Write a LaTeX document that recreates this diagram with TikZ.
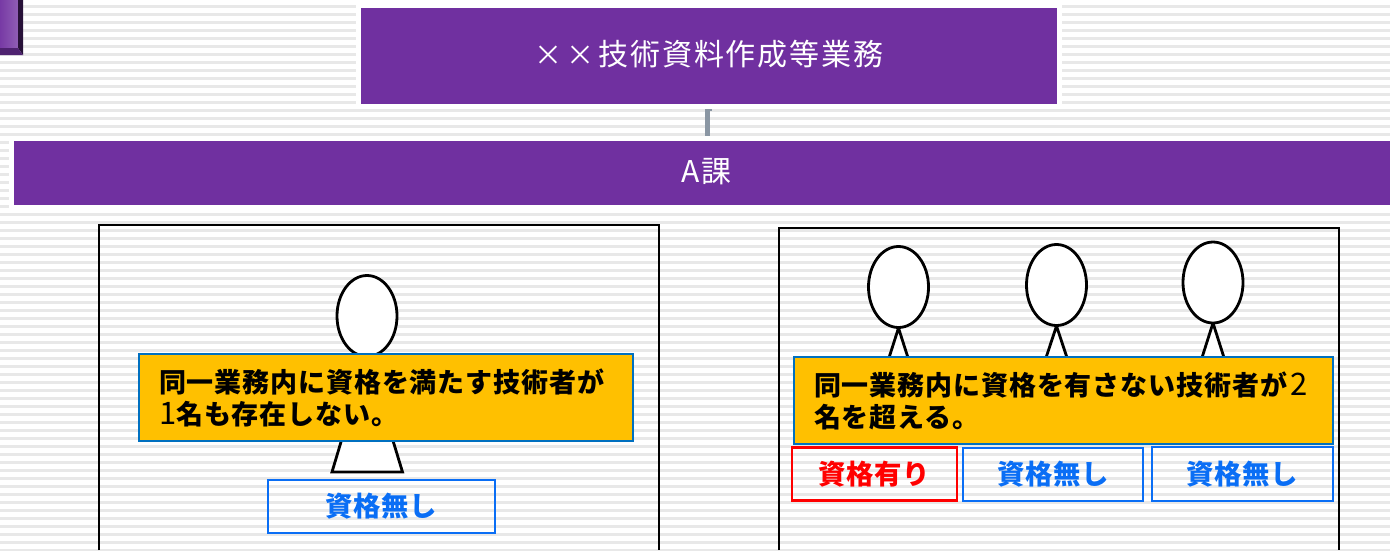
\documentclass[tikz,border=0pt]{standalone}
\usepackage{fontspec}
\setmainfont{Noto Sans CJK JP}
\usetikzlibrary{calc,shapes.geometric}
\definecolor{purp}{HTML}{7030A0}
\definecolor{stripe}{HTML}{E8E8E8}
\definecolor{yel}{HTML}{FFC000}
\definecolor{yelb}{HTML}{0070C0}
\definecolor{lblue}{HTML}{0A6EF5}
\definecolor{lred}{HTML}{FF0000}
\definecolor{conn}{HTML}{8A96A3}
\tikzset{
  halo/.style={fill=white,draw=none},
  purpbox/.style={fill=purp,draw=none,text=white,inner sep=0pt,font=\fontsize{30}{34}\selectfont\addfontfeature{LetterSpace=6}},
  panel/.style={draw=black,line width=2.6pt,line cap=butt},
  head/.style={ellipse,draw=black,fill=white,line width=2.8pt,inner sep=0pt,minimum width=60pt,minimum height=81pt},
  torso/.style={draw=black,fill=white,line width=2.8pt,line join=miter},
  note/.style={fill=yel,draw=yelb,line width=2pt,inner sep=0pt,align=left,font=\fontsize{27}{33}\selectfont\bfseries\addfontfeature{LetterSpace=3.3}},
  tag/.style={draw=#1,text=#1,line width=2.2pt,inner sep=0pt,font=\fontsize{27.4}{32}\selectfont\bfseries\addfontfeature{LetterSpace=2}},
}
\newcommand{\rg}[1]{{\mdseries\fontsize{31}{33}\selectfont #1}}
\newcommand{\multsign}{\makebox[32pt][l]{\fontsize{28}{30}\selectfont\mdseries ×}}
\begin{document}
\begin{tikzpicture}[x=1pt,y=-1pt]
\useasboundingbox (0,0) rectangle (1390,550);
\fill[white] (0,0) rectangle (1390,550);
% stripes
\foreach \k in {0,...,68} {
  \fill[stripe] (0,{5.1+8*\k}) rectangle (1390,{7.5+8*\k});
}
% corner icon
\fill[left color=purp!95!white,right color=purp!78!white] (0,0) rectangle (18,48);
\fill[black!65!purp] (18,0) -- (23,0) -- (23,55) -- (18,48) -- cycle;
\fill[black!30!purp] (0,48) -- (18,48) -- (23,55) -- (0,55) -- cycle;
% connector (below the halos)
\coordinate (topfoot) at (709,104);
\coordinate (barhead) at (707,141);
\draw[conn,line width=5pt] (barhead) -- (barhead |- topfoot);
\draw[conn,line width=1.6pt] (705,109.8) -- (711.8,109.8);
% halos and purple boxes
\fill[halo] (356,0) rectangle (1062,109);
\fill[halo] (9,136) rectangle (1390,210);
\node[purpbox,minimum width=696pt,minimum height=96pt] (top) at (709,56) {\raisebox{7pt}{\multsign\multsign 技術資料作成等業務}};
\node[purpbox,minimum width=1376pt,minimum height=64pt] (bar) at (702,173) {\raisebox{4.5pt}{\hspace*{10pt}A課}};
% panels
\draw[panel] (99,550) -- (99,225) -- (659,225) -- (659,550);
\draw[panel] (779,550) -- (779,228) -- (1339,228) -- (1339,550);
% left figure
\draw[torso] (367,355) -- (332,472) -- (402.5,472) -- cycle;
\node[head] (h0) at (367,316) {};
% right figures
\draw[torso] (898.5,328) -- (875.5,400) -- (921.5,400) -- cycle;
\node[head] (h1) at (898.5,287) {};
\draw[torso] (1056.5,326) -- (1032,400) -- (1081,400) -- cycle;
\node[head] (h2) at (1056.5,285) {};
\draw[torso] (1213,323) -- (1188.5,400) -- (1237.5,400) -- cycle;
\node[head] (h3) at (1213,282.5) {};
% notes
\node[note,minimum width=494pt,minimum height=87pt,text width=454pt] (n1) at (386,397.5)
  {\raisebox{-3pt}{同一業務内に資格を満たす技術者が}\\\raisebox{-2pt}{\rg{1}名も存在しない。}};
\node[note,minimum width=539pt,minimum height=87pt,text width=499pt] (n2) at (1063.5,400.5)
  {\raisebox{-3pt}{同一業務内に資格を有さない技術者が\hspace{3pt}\rg{2}}\\\raisebox{-2pt}{名を超える。}};
% tags
\node[tag=lblue,minimum width=227pt,minimum height=53pt] (t0) at (381.5,506.5) {\raisebox{-3.5pt}{資格無し}};
\node[tag=lred,minimum width=165pt,minimum height=53pt] (t1) at (874.5,474) {\raisebox{-3.5pt}{資格有り}};
\node[tag=lblue,minimum width=180pt,minimum height=53pt] (t2) at (1053,474.5) {\raisebox{-3.5pt}{資格無し}};
\node[tag=lblue,minimum width=181pt,minimum height=54pt] (t3) at (1242.5,474) {\raisebox{-3.5pt}{資格無し}};
\end{tikzpicture}
\end{document}
